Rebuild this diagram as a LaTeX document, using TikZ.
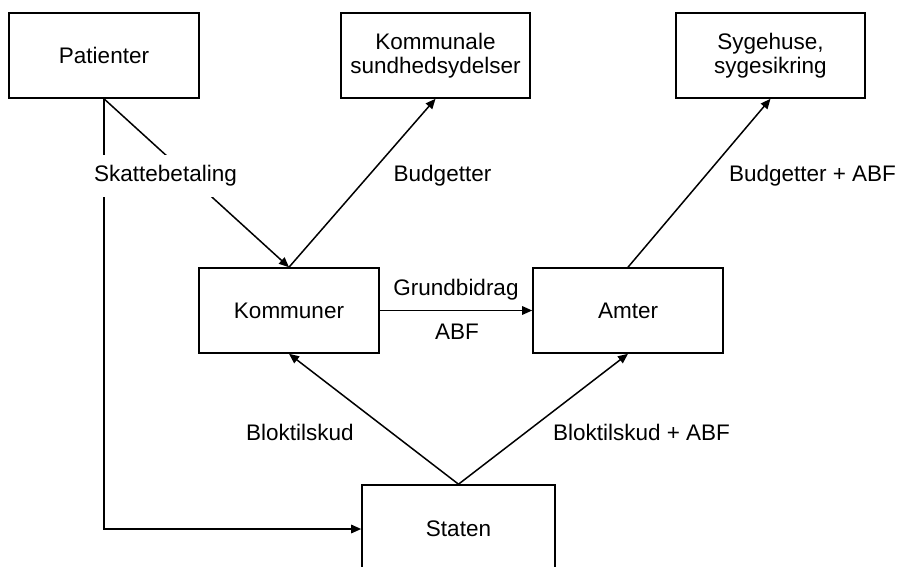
\documentclass[tikz,border=0pt]{standalone}
\usepackage{fontspec}
\setmainfont{Liberation Sans}
\usetikzlibrary{arrows.meta}
\begin{document}
\begin{tikzpicture}[x=1pt,y=-1pt,
  every node/.style={font=\fontsize{22.5}{25}\selectfont},
  box/.style={draw,line width=1.6pt,inner sep=0pt,align=center},
  flow/.style={line width=1.5pt,-{Triangle[length=10pt,width=8.5pt]}},
  lbl/.style={inner sep=0pt}]
  \useasboundingbox (0,0) rectangle (902,567);
  \clip (0,0) rectangle (902,567);

  % boxes
  \node[box,minimum width=190pt,minimum height=85pt] (pat) at (104,55.5) {Patienter};
  \node[box,minimum width=189pt,minimum height=85pt] (ksu) at (435.5,55.5) {Kommunale\\[-1pt]sundhedsydelser};
  \node[box,minimum width=189pt,minimum height=85pt] (syg) at (770.5,55.5) {Sygehuse,\\[-1pt]sygesikring};
  \node[box,minimum width=180pt,minimum height=85pt] (kom) at (289,310.5) {Kommuner};
  \node[box,minimum width=190pt,minimum height=85pt] (amt) at (628,310.5) {Amter};
  \node[box,minimum width=193pt,minimum height=88pt] (sta) at (458.5,529) {Staten};

  % flows
  \draw[flow] (pat.south) -- (kom.north);
  \draw[flow] (pat.south) |- (sta.west);
  \draw[flow] (kom.north) -- (ksu.south);
  \draw[flow] (amt.north) -- (syg.south);
  \draw[flow] (kom.east) -- (amt.west);
  \draw[flow] (sta.north) -- (kom.south);
  \draw[flow] (sta.north) -- (amt.south);

  % labels
  \node[fill=white,inner xsep=4pt,inner ysep=11pt] (skat) at (165.5,176) {Skattebetaling};
  \node[lbl] (bud1) at (442.5,176) {Budgetter};
  \node[lbl] (bud2) at (812.5,176) {Budgetter + ABF};
  \node[lbl] (grund) at (456,290) {Grundbidrag};
  \node[lbl] (abf) at (457,332) {ABF};
  \node[lbl] (blok1) at (300,432) {Bloktilskud};
  \node[lbl] (blok2) at (641.5,432) {Bloktilskud + ABF};
\end{tikzpicture}
\end{document}
